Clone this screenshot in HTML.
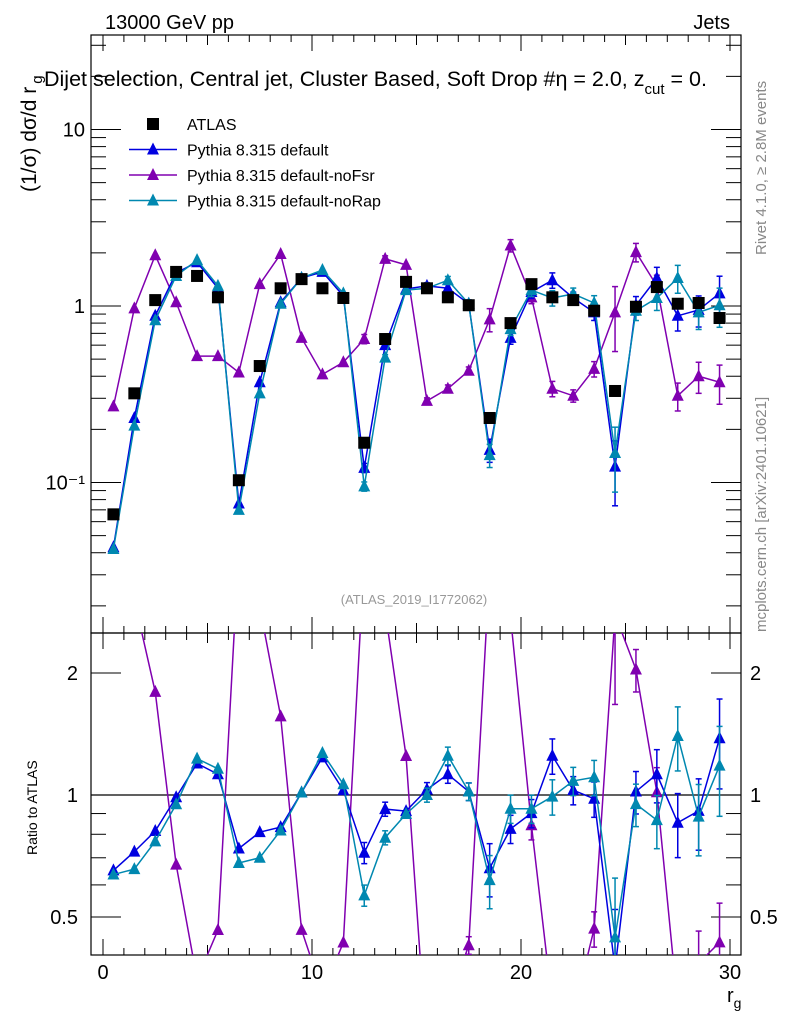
<!DOCTYPE html>
<html><head><meta charset="utf-8"><style>
html,body{margin:0;padding:0;background:#fff;}
svg{display:block;font-family:"Liberation Sans",sans-serif;}
</style></head><body>
<svg id="chart" width="786" height="1024" viewBox="0 0 786 1024" xmlns="http://www.w3.org/2000/svg">
<defs>
<clipPath id="cTop"><rect x="91" y="35" width="650" height="598"/></clipPath>
<clipPath id="cBot"><rect x="91" y="633" width="650" height="322"/></clipPath>
</defs>
<text x="105" y="29" font-size="20">13000 GeV pp</text>
<text x="730" y="29" font-size="20" text-anchor="end">Jets</text>
<rect x="91" y="35" width="650" height="598" fill="none" stroke="#000" stroke-width="1.2"/>
<rect x="91" y="633" width="650" height="322" fill="none" stroke="#000" stroke-width="1.2"/>
<g id="axes"></g>
<g id="topMarks" clip-path="url(#cTop)"></g>
<g id="botMarks" clip-path="url(#cBot)"></g>
<text x="44" y="86" font-size="21.5">Dijet selection, Central jet, Cluster Based, Soft Drop #η = 2.0, z<tspan font-size="15" dy="8">cut</tspan><tspan dy="-8"> = 0.</tspan></text>
<text transform="translate(36,192) rotate(-90)" font-size="21">(1/σ) dσ/d r<tspan font-size="15" dy="6" dx="3">g</tspan></text>
<text transform="translate(37,855) rotate(-90)" font-size="14">Ratio to ATLAS</text>
<text x="727" y="1002" font-size="20">r<tspan font-size="14" dy="6">g</tspan></text>
<text transform="translate(766,255) rotate(-90)" font-size="15" fill="#888">Rivet 4.1.0, ≥ 2.8M events</text>
<text transform="translate(766,632) rotate(-90)" font-size="15" fill="#888">mcplots.cern.ch [arXiv:2401.10621]</text>
<text x="414" y="604" font-size="13" fill="#999" text-anchor="middle">(ATLAS_2019_I1772062)</text>
<g id="legend"></g>
</svg>
<script>
const xCenters=[0.5,1.5,2.5,3.5,4.5,5.5,6.5,7.5,8.5,9.5,10.5,11.5,12.5,13.5,14.5,15.5,16.5,17.5,18.5,19.5,20.5,21.5,22.5,23.5,24.5,25.5,26.5,27.5,28.5,29.5];
const atlas=[0.066,0.32,1.08,1.56,1.48,1.12,0.103,0.457,1.26,1.42,1.26,1.11,0.168,0.65,1.37,1.26,1.12,1.01,0.232,0.8,1.33,1.12,1.08,0.94,0.33,0.99,1.28,1.03,1.04,0.855];
const pyDefault=[0.043,0.232,0.88,1.54,1.77,1.26,0.076,0.37,1.05,1.44,1.56,1.14,0.121,0.6,1.25,1.3,1.26,1.03,0.153,0.66,1.2,1.4,1.11,0.92,0.123,1.01,1.44,0.88,0.95,1.18];
const pyNoFsr=[0.27,0.97,1.94,1.05,0.52,0.52,0.42,1.33,1.97,0.66,0.41,0.48,0.65,1.85,1.71,0.29,0.34,0.43,0.84,2.2,1.12,0.34,0.31,0.44,0.92,2.02,1.3,0.31,0.4,0.37];
const pyNoRap=[0.042,0.21,0.83,1.48,1.82,1.3,0.07,0.32,1.03,1.44,1.6,1.18,0.095,0.51,1.23,1.26,1.4,1.03,0.143,0.74,1.23,1.11,1.17,1.04,0.147,0.94,1.11,1.44,0.92,1.01];
const relErr=[0.02,0.02,0.02,0.02,0.02,0.02,0.03,0.03,0.02,0.02,0.02,0.03,0.06,0.04,0.03,0.04,0.05,0.05,0.15,0.08,0.08,0.1,0.08,0.1,0.4,0.12,0.15,0.18,0.2,0.25];
const xTicks=[0,10,20,30];
const yTopTicks=[10,1,0.1];
const yTopLabels=["10","1","10⁻¹"];
const ratioTicks=[2,1,0.5];
const ratioLabels=["2","1","0.5"];

const NS="http://www.w3.org/2000/svg";
const X0=91,X1=741,TT=35,TB=633,BT=633,BB=955;
const xs=v=>103+v*20.9;
const yTop=v=>306-176.5*Math.log10(v);
const yBot=r=>795-122*Math.log2(r);
function mk(tag,attrs,parent){const e=document.createElementNS(NS,tag);for(const k in attrs)e.setAttribute(k,attrs[k]);parent.appendChild(e);return e;}
const axesG=document.getElementById('axes');
for(let v=0;v<=30;v++){
  const L=v%10===0?16:(v%5===0?10:7);
  [[TB,-1],[TT,1],[BB,-1],[BT,1]].forEach(([y,d])=>{
    const t=mk('line',{x1:xs(v),x2:xs(v),y1:y,y2:y+d*L,stroke:'#000','stroke-width':1},axesG);
    
    
  });
}
xTicks.forEach(v=>{const t=mk('text',{x:xs(v),y:979,'font-size':20,'text-anchor':'middle'},axesG);t.textContent=v;
  
  });
for(let dec=-2;dec<=1;dec++){for(let m=1;m<=9;m++){const v=m*Math.pow(10,dec);const y=yTop(v);if(y<TT||y>TB)continue;
  const L=m===1?30:15;
  const t=mk('line',{x1:X0,x2:X0+L,y1:y,y2:y,stroke:'#000','stroke-width':1},axesG);
  
  
  const t2=mk('line',{x1:X1,x2:X1-L,y1:y,y2:y,stroke:'#000','stroke-width':1},axesG);
  
  }}
yTopTicks.forEach((v,i)=>{const t=mk('text',{x:85,y:yTop(v)+7,'font-size':20,'text-anchor':'end'},axesG);t.textContent=yTopLabels[i];
  
  });
[0.5,0.6,0.7,0.8,0.9,1,2].forEach(r=>{const y=yBot(r);const L=(r===1||r===2||r===0.5)?30:15;
  const t=mk('line',{x1:X0,x2:X0+L,y1:y,y2:y,stroke:'#000'},axesG);
  
  
  const t2=mk('line',{x1:X1,x2:X1-L,y1:y,y2:y,stroke:'#000'},axesG);
  
  });
ratioTicks.forEach((r,i)=>{[[78,'end'],[750,'start']].forEach(([x,a])=>{const t=mk('text',{x:x,y:yBot(r)+7,'font-size':20,'text-anchor':a},axesG);t.textContent=ratioLabels[i];
  
  });});
const refLine=mk('line',{x1:X0,x2:X1,y1:yBot(1),y2:yBot(1),stroke:'#000','stroke-width':1.2},axesG);



const topG=document.getElementById('topMarks'),botG=document.getElementById('botMarks');
function tri(g,x,y,c){return mk('polygon',{points:`${x},${y-7} ${x-6},${y+5} ${x+6},${y+5}`,fill:c},g);}
function series(vals,color,name){
  const gT=mk('g',{},topG);
  
  
  const gB=mk('g',{},botG);
  
  
  const ptsT=vals.map((v,i)=>xs(xCenters[i])+','+yTop(v)).join(' ');
  const ptsB=vals.map((v,i)=>xs(xCenters[i])+','+yBot(v/atlas[i])).join(' ');
  mk('polyline',{points:ptsT,fill:'none',stroke:color,'stroke-width':1.5},gT);
  mk('polyline',{points:ptsB,fill:'none',stroke:color,'stroke-width':1.5},gB);
  vals.forEach((v,i)=>{const x=xs(xCenters[i]);const e=relErr[i];const r=v/atlas[i];
    [[gT,yTop(v*(1+e)),yTop(Math.max(v*(1-e),1e-4)),yTop(v)],[gB,yBot(r*(1+e)),yBot(Math.max(r*(1-e),1e-4)),yBot(r)]].forEach(([g,y1,y2,yc])=>{
      if(e>0.03){mk('line',{x1:x,x2:x,y1:y1,y2:y2,stroke:color,'stroke-width':1.5},g);
        mk('line',{x1:x-3,x2:x+3,y1:y1,y2:y1,stroke:color,'stroke-width':1.5},g);
        mk('line',{x1:x-3,x2:x+3,y1:y2,y2:y2,stroke:color,'stroke-width':1.5},g);}
      const p=tri(g,x,yc,color);
      
      
    });
  });
}
series(pyNoFsr,'#8000b0','noFsr');
series(pyDefault,'#0000e0','default');
series(pyNoRap,'#0088b0','noRap');
atlas.forEach((v,i)=>{const s=mk('rect',{x:xs(xCenters[i])-6,y:yTop(v)-6,width:12,height:12,fill:'#000'},topG);
  
  });

const lg=document.getElementById('legend');
const entries=[['ATLAS','#000',0],['Pythia 8.315 default','#0000e0',1],['Pythia 8.315 default-noFsr','#8000b0',1],['Pythia 8.315 default-noRap','#0088b0',1]];
entries.forEach(([lab,c,isTri],i)=>{const y=124+i*25.5;const g=mk('g',{},lg);
  
  
  if(isTri){mk('line',{x1:129,x2:177,y1:y,y2:y,stroke:c,'stroke-width':1.5},g);tri(g,153,y,c);}
  else mk('rect',{x:147,y:y-6,width:12,height:12,fill:c},g);
  const t=mk('text',{x:187,y:y+6,'font-size':16},g);t.textContent=lab;});
</script>
</body></html>
